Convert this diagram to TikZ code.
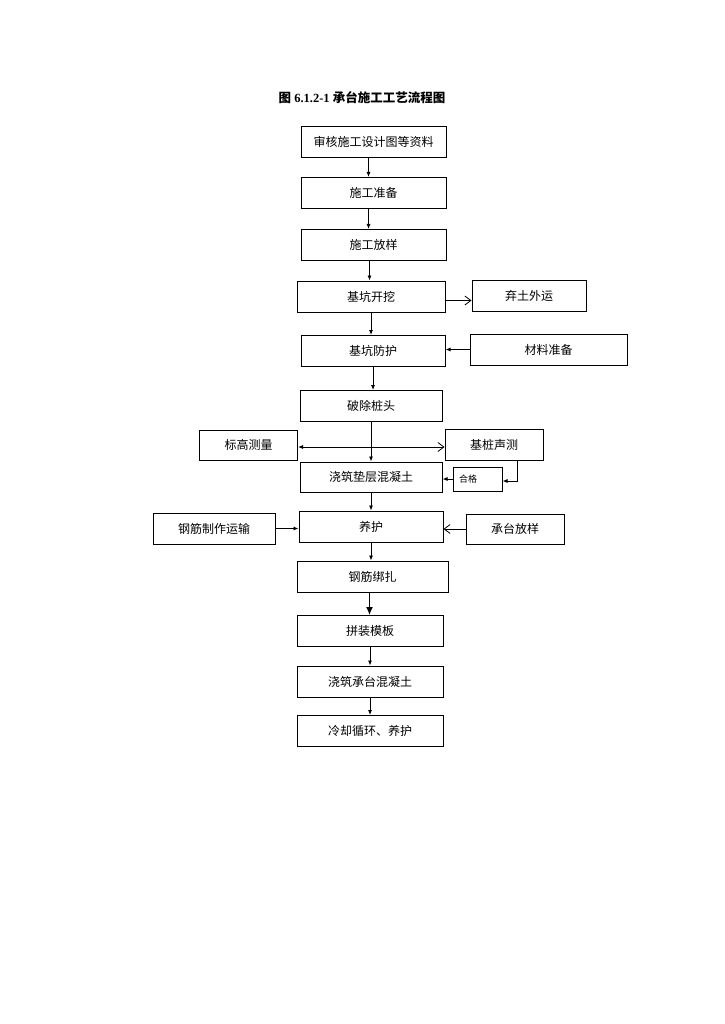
\documentclass[tikz,border=0pt]{standalone}
\usepackage{fontspec}
\setmainfont{Liberation Serif}
\newfontfamily\cjk{Noto Sans CJK SC}
\usetikzlibrary{arrows.meta}

\begin{document}
\begin{tikzpicture}[x=1pt, y=-1pt, font=\cjk\fontsize{12}{14}\selectfont,
      box/.style={draw, line width=1pt, inner sep=0pt, minimum height=31pt},
      ar/.style={-{Latex[length=5pt,width=4pt]}, line width=0.8pt},
      opn/.style={-{Straight Barb[length=6pt,width=9pt]}, line width=0.8pt}]
    \useasboundingbox (0,0) rectangle (724,1024);
    \node[font=\bfseries\fontsize{12.5}{14}\selectfont] (title) at (362,98)
      {{\cjk 图} {\rmfamily 6.1.2-1} {\cjk 承台施工工艺流程图}};
    \node[box, minimum width=145] (shenhe) at (373.5,142) {审核施工设计图等资料};
    \node[box, minimum width=145] (zhunbei) at (373.5,193) {施工准备};
    \node[box, minimum width=145] (fangyang) at (373.5,245) {施工放样};
    \node[box, minimum width=148] (kaiwa) at (371,296.5) {基坑开挖};
    \node[box, minimum width=114] (qitu) at (529,296) {弃土外运};
    \node[box, minimum width=144] (fanghu) at (373,351) {基坑防护};
    \node[box, minimum width=157] (cailiao) at (548.5,349.5) {材料准备};
    \node[box, minimum width=142] (pochu) at (371,406) {破除桩头};
    \node[box, minimum width=98, minimum height=30] (biaogao) at (248.5,445) {标高测量};
    \node[box, minimum width=98] (shengce) at (494,444.5) {基桩声测};
    \node[box, minimum width=142, minimum height=30] (dianceng) at (371,477) {浇筑垫层混凝土};
    \node[box, minimum width=49, minimum height=24, font=\cjk\fontsize{9}{11}\selectfont,
      text width=37, inner xsep=6, align=left] (hege) at (477.5,479) {合格};
    \node[box, minimum width=144] (yanghu) at (371,526.5) {养护};
    \node[box, minimum width=122] (gangjin) at (214,528.5) {钢筋制作运输};
    \node[box, minimum width=98, minimum height=30] (chengtai) at (515,529) {承台放样};
    \node[box, minimum width=151] (bangza) at (372.5,576.5) {钢筋绑扎};
    \node[box, minimum width=146] (muban) at (370,631) {拼装模板};
    \node[box, minimum width=146] (jiaozhu) at (370,681.5) {浇筑承台混凝土};
    \node[box, minimum width=146] (lengque) at (370,731) {冷却循环、养护};
    % main line
    \draw[ar] ([xshift=-5]shenhe.south) -- ([xshift=-5]shenhe.south |- zhunbei.north);
    \draw[ar] ([xshift=-5]zhunbei.south) -- ([xshift=-5]zhunbei.south |- fangyang.north);
    \draw[ar] ([xshift=-4]fangyang.south) -- ([xshift=-4]fangyang.south |- kaiwa.north);
    \draw[ar] (kaiwa.south) -- (kaiwa.south |- fanghu.north);
    \draw[ar] (fanghu.south) -- (fanghu.south |- pochu.north);
    \draw[ar] (pochu.south) -- (pochu.south |- dianceng.north);
    \draw[ar] (dianceng.south) -- (dianceng.south |- yanghu.north);
    \draw[ar] (yanghu.south) -- (yanghu.south |- bangza.north);
    \draw[ar, line width=1.2pt, -{Latex[length=8pt,width=7pt]}] ([xshift=-3]bangza.south) -- ([xshift=-3]bangza.south |- muban.north);
    \draw[ar] (muban.south) -- (jiaozhu.north);
    \draw[ar] (jiaozhu.south) -- (lengque.north);
    % side branches
    \draw[opn] ([yshift=-4]kaiwa.east) -- ([yshift=-4]kaiwa.east -| qitu.west);
    \draw[ar] (cailiao.west) -- (cailiao.west -| fanghu.east);
    \draw[line width=0.8pt, {Latex[length=5pt,width=4pt]}-{Straight Barb[length=6pt,width=9pt]}]
      ([yshift=-2]biaogao.east) -- ([yshift=-2]biaogao.east -| shengce.west);
    \draw[ar] ([xshift=23]shengce.south) |- ([yshift=-2]hege.east);
    \draw[ar] (hege.west) -- (hege.west -| dianceng.east);
    \draw[ar] (gangjin.east) -- (gangjin.east -| yanghu.west);
    \draw[opn] (chengtai.west) -- (chengtai.west -| yanghu.east);
  \end{tikzpicture}
\end{document}
